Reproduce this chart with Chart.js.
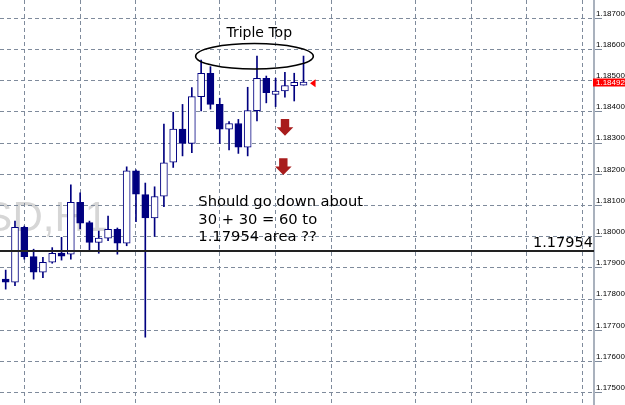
<!DOCTYPE html>
<html><head><meta charset="utf-8">
<script src="https://cdn.jsdelivr.net/npm/chart.js@4.4.0/dist/chart.umd.min.js"></script>
<style>html,body{margin:0;padding:0;background:#fff;}#wrap{width:625px;height:405px;}</style>
</head><body><div id="wrap"><canvas id="c" width="625" height="405"></canvas></div>
<script>
// ---- data ----
const bars  = [0,1,2,3,4,5,6,7,8,9,10,11,12,13,14,15,16,17,18,19,20,21,22,23,24,25,26,27,28,29,30,31,32];
const open  = [1.17864,1.17854,1.18030,1.17936,1.17886,1.17918,1.17947,1.17944,1.18110,1.18045,1.17982,1.17995,1.18024,1.17979,1.18211,1.18135,1.18060,1.18130,1.18239,1.18345,1.18299,1.18449,1.18524,1.18424,1.18345,1.18363,1.18287,1.18404,1.18508,1.18456,1.18467,1.18484,1.18486];
const high  = [1.17893,1.18050,1.18034,1.17960,1.17934,1.17965,1.17998,1.18166,1.18141,1.18050,1.18018,1.18066,1.18028,1.18224,1.18214,1.18172,1.18160,1.18361,1.18399,1.18424,1.18478,1.18566,1.18545,1.18444,1.18369,1.18376,1.18479,1.18579,1.18515,1.18508,1.18527,1.18524,1.18579];
const low   = [1.17832,1.17843,1.17928,1.17864,1.17869,1.17915,1.17925,1.17928,1.18025,1.17954,1.17947,1.17987,1.17944,1.17971,1.18048,1.17678,1.18001,1.18096,1.18222,1.18259,1.18269,1.18403,1.18409,1.18299,1.18278,1.18267,1.18259,1.18371,1.18429,1.18417,1.18447,1.18435,1.18486];
const close = [1.17854,1.18030,1.17936,1.17886,1.17918,1.17947,1.17938,1.18110,1.18043,1.17982,1.17996,1.18024,1.17979,1.18211,1.18136,1.18060,1.18129,1.18237,1.18345,1.18299,1.18449,1.18524,1.18424,1.18345,1.18363,1.18287,1.18404,1.18508,1.18462,1.18467,1.18484,1.18495,1.18492];
const priceTicks = [1.175,1.176,1.177,1.178,1.179,1.180,1.181,1.182,1.183,1.184,1.185,1.186,1.187];
const sessionGridBars = [2,8,14,23,29,35,44,50,56,62];
const targetLevel = 1.17954;
const currentPrice = 1.18492;
const xRange = [-0.611, 63.21];
const yRange = [1.174606, 1.187587];
const titleText = 'Triple Top';
const noteLines = ['Should go down about', '30 + 30 = 60 to', '1.17954 area ??'];
const watermarkText = 'EURUSD,H1';
// annotation anchors in data units (bar index, price)
const ellipseAnchor = {x: 26.73, y: 1.185785, rx: 6.32, ry: 0.00041};
const titleAnchor = {x: 27.24, y: 1.186404};
const noteAnchor = {x: 20.70, y: 1.180978};
const arrowAnchors = [{x: 30.01, y: 1.183772}, {x: 29.83, y: 1.182513}];
const markerBar = 32.70;
const watermarkAnchor = {x: 11.0, y: 1.18017};

const NAVY = '#000080';
const GRID = '#7f8b9c';

const overlay = {
  id: 'overlay',
  beforeDraw(chart) {
    const ctx = chart.ctx, xs = chart.scales.x, ys = chart.scales.y;
    ctx.save();
    ctx.font = '42px "Liberation Sans"';
    ctx.fillStyle = '#d6d6d6';
    ctx.textAlign = 'right';
    ctx.textBaseline = 'alphabetic';
    ctx.fillText(watermarkText, xs.getPixelForValue(watermarkAnchor.x), ys.getPixelForValue(watermarkAnchor.y));
    ctx.restore();
  },
  afterDatasetsDraw(chart) {
    const ctx = chart.ctx, xs = chart.scales.x, ys = chart.scales.y;
    const px = v => xs.getPixelForValue(v), py = v => ys.getPixelForValue(v);
    ctx.save();
    const ex = px(ellipseAnchor.x), ey = py(ellipseAnchor.y);
    const erx = px(ellipseAnchor.x + ellipseAnchor.rx) - ex;
    const ery = py(ellipseAnchor.y - ellipseAnchor.ry) - ey;
    ctx.beginPath();
    ctx.ellipse(ex, ey, erx, ery, 0, 0, Math.PI * 2);
    ctx.lineWidth = 1.6; ctx.strokeStyle = '#000'; ctx.stroke();
    ctx.fillStyle = '#000';
    ctx.font = '14px "DejaVu Sans"';
    ctx.textAlign = 'center'; ctx.textBaseline = 'alphabetic';
    ctx.fillText(titleText, px(titleAnchor.x), py(titleAnchor.y));
    ctx.font = '14.7px "DejaVu Sans"';
    ctx.textAlign = 'left';
    const nx = px(noteAnchor.x), ny = py(noteAnchor.y);
    noteLines.forEach((t, i) => ctx.fillText(t, nx, ny + i * 17.6));
    ctx.font = '14.5px "DejaVu Sans"';
    ctx.textAlign = 'right';
    ctx.fillText(targetLevel.toFixed(5), chart.chartArea.right - 1, py(targetLevel) - 4.5);
    ctx.fillStyle = '#a81c1c';
    arrowAnchors.forEach(a => {
      const cx = px(a.x), top = py(a.y);
      ctx.beginPath();
      ctx.moveTo(cx - 4.2, top);
      ctx.lineTo(cx + 4.2, top);
      ctx.lineTo(cx + 4.2, top + 8.3);
      ctx.lineTo(cx + 8.3, top + 8.3);
      ctx.lineTo(cx, top + 16.7);
      ctx.lineTo(cx - 8.3, top + 8.3);
      ctx.lineTo(cx - 4.2, top + 8.3);
      ctx.closePath();
      ctx.fill();
    });
    const my = py(currentPrice), mx = px(markerBar);
    ctx.fillStyle = '#ff0000';
    ctx.beginPath();
    ctx.moveTo(mx, my);
    ctx.lineTo(mx + 5.5, my - 4);
    ctx.lineTo(mx + 5.5, my + 4);
    ctx.closePath();
    ctx.fill();
    ctx.restore();
  },
  afterDraw(chart) {
    const ctx = chart.ctx, ys = chart.scales.y;
    const y = ys.getPixelForValue(currentPrice);
    const left = chart.chartArea.right - 1;
    ctx.save();
    ctx.fillStyle = '#ff0000';
    ctx.fillRect(left, Math.round(y) - 4.5, 625 - left, 8);
    ctx.fillStyle = '#ffffff';
    ctx.font = '8px "Liberation Sans"';
    ctx.textAlign = 'left'; ctx.textBaseline = 'middle';
    ctx.fillText(currentPrice.toFixed(5), left + 3, Math.round(y) - 0.5);
    ctx.restore();
  }
};

new Chart(document.getElementById('c'), {
  type: 'bar',
  data: {
    datasets: [
      {
        label: 'wicks',
        data: bars.map(i => ({x: i, y: [low[i], high[i]]})),
        backgroundColor: NAVY,
        borderWidth: 0,
        barThickness: 1,
        grouped: false,
        order: 3
      },
      {
        label: 'bodies',
        data: bars.map(i => ({x: i, y: [open[i], close[i]]})),
        backgroundColor: bars.map(i => close[i] >= open[i] ? '#ffffff' : NAVY),
        borderColor: NAVY,
        borderWidth: 1,
        borderSkipped: false,
        barThickness: 7,
        minBarLength: 3,
        grouped: false,
        order: 2
      },
      {
        type: 'line',
        label: 'level',
        data: [{x: xRange[0], y: targetLevel}, {x: xRange[1], y: targetLevel}],
        borderColor: '#222222',
        borderWidth: 2,
        pointRadius: 0,
        order: 1
      }
    ]
  },
  options: {
    responsive: false,
    animation: false,
    devicePixelRatio: 1,
    layout: {padding: 0},
    plugins: {legend: {display: false}, tooltip: {enabled: false}},
    scales: {
      x: {
        type: 'linear',
        offset: false,
        min: xRange[0], max: xRange[1],
        afterBuildTicks: s => { s.ticks = sessionGridBars.map(v => ({value: v})); },
        afterFit: s => { s.height = 0; s.paddingLeft = 0; s.paddingRight = 0; },
        ticks: {display: false},
        grid: {color: GRID, lineWidth: 1, drawTicks: false, offset: false},
        border: {display: false, dash: [4, 3]}
      },
      y: {
        type: 'linear',
        position: 'right',
        min: yRange[0], max: yRange[1],
        afterBuildTicks: s => { s.ticks = priceTicks.map(v => ({value: v})); },
        afterFit: s => { s.width = 31; s.paddingTop = 0; s.paddingBottom = 0; },
        ticks: {
          callback: v => Number(v).toFixed(5),
          font: {family: 'Liberation Sans', size: 8},
          color: '#000',
          padding: -6,
          labelOffset: -5
        },
        grid: {color: GRID, lineWidth: 1, drawTicks: true, tickLength: 8, tickColor: GRID, tickBorderDash: []},
        border: {display: true, color: '#a9b1bd', width: 2, dash: [4, 3]}
      }
    }
  },
  plugins: [overlay]
});
</script>
</body></html>
